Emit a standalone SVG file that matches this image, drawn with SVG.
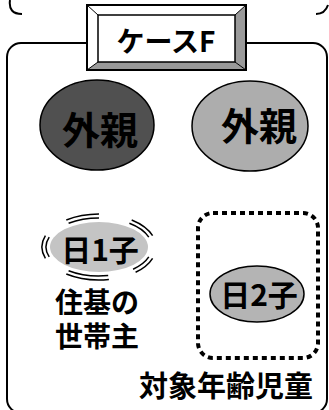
<svg xmlns="http://www.w3.org/2000/svg" width="329" height="410" viewBox="0 0 329 410">
<style>
.ln{fill:none;stroke:#000;stroke-width:2}
.arc{fill:none;stroke:#000;stroke-width:1.5}
.t{font-family:"Noto Sans CJK JP","Noto Sans",sans-serif;text-anchor:middle;fill:#000;font-weight:bold}
.lab{font-family:"Liberation Sans","Noto Sans CJK JP",sans-serif}
</style>
<rect width="329" height="410" fill="#fff"/>
<g id="prev-frame">
<path class="ln" d="M 10 0 Q 8 14 22 14"/>
<path class="ln" d="M 316 14 Q 325 14 328 5"/>
</g>
<g id="frame">
<rect class="ln" x="7" y="43" width="320" height="370" rx="14"/>
</g>
<g id="title">
<rect x="87" y="5" width="159" height="65" fill="#fff" stroke="#000" stroke-width="2"/>
<polygon points="235,15 246,5 246,70 235,62" fill="#9a9a9a"/>
<polygon points="98,62 235,62 246,70 87,70" fill="#9a9a9a"/>
<rect x="87" y="5" width="159" height="65" fill="none" stroke="#000" stroke-width="2"/>
<rect x="98" y="15" width="137" height="47" fill="#fff" stroke="#000" stroke-width="1.5"/>
<path d="M 87 5 L 98 15 M 246 5 L 235 15 M 87 70 L 98 62 M 246 70 L 235 62" stroke="#000" stroke-width="1"/>
<text class="t" x="166" y="52" font-size="28">ケースF</text>
</g>
<g id="gaishin-dark">
<ellipse cx="97" cy="125" rx="57" ry="45" fill="#505050" stroke="#000" stroke-width="1.5"/>
<text class="t" x="100" y="144" font-size="38" fill="#262626">外親</text>
</g>
<g id="gaishin-light">
<ellipse cx="250" cy="126" rx="58" ry="45" fill="#adadad" stroke="#000" stroke-width="1.5"/>
<text class="t" x="259" y="140" font-size="38">外親</text>
</g>
<g id="hi1ko">
<ellipse cx="99" cy="247" rx="49" ry="25" fill="#c4c4c4"/>
<path class="arc" d="M 68.6 223.2 A 53 29 0 0 1 99 218 M 66.3 220 A 57 33 0 0 1 99 214"/>
<path class="arc" d="M 129.4 223.2 A 53 29 0 0 1 148.8 237.1 M 131.7 220 A 57 33 0 0 1 152.6 235.7"/>
<path class="arc" d="M 148.8 256.9 A 53 29 0 0 1 133.1 269.2 M 152.6 258.3 A 57 33 0 0 1 135.6 272.3"/>
<path class="arc" d="M 108.2 275.6 A 53 29 0 0 1 68.6 270.8 M 108.9 279.5 A 57 33 0 0 1 66.3 274"/>
<path class="arc" d="M 49.2 256.9 A 53 29 0 0 1 49.2 237.1 M 45.4 258.3 A 57 33 0 0 1 45.4 235.7"/>
<text class="t" x="100" y="261" font-size="30">日1子</text>
</g>
<g id="label-setainushi">
<text class="t lab" font-size="28"><tspan x="97" y="313">住基の</tspan><tspan x="97" y="347">世帯主</tspan></text>
</g>
<g id="target-group">
<rect x="198" y="213" width="120" height="145" rx="15" fill="none" stroke="#000" stroke-width="4" stroke-dasharray="5 4"/>
</g>
<g id="hi2ko">
<ellipse cx="257" cy="294" rx="47" ry="28" fill="#b4b4b4" stroke="#000" stroke-width="1.5"/>
<text class="t" x="259" y="306" font-size="30">日2子</text>
</g>
<g id="label-target">
<text class="t" x="226" y="397" font-size="29">対象年齢児童</text>
</g>
</svg>
